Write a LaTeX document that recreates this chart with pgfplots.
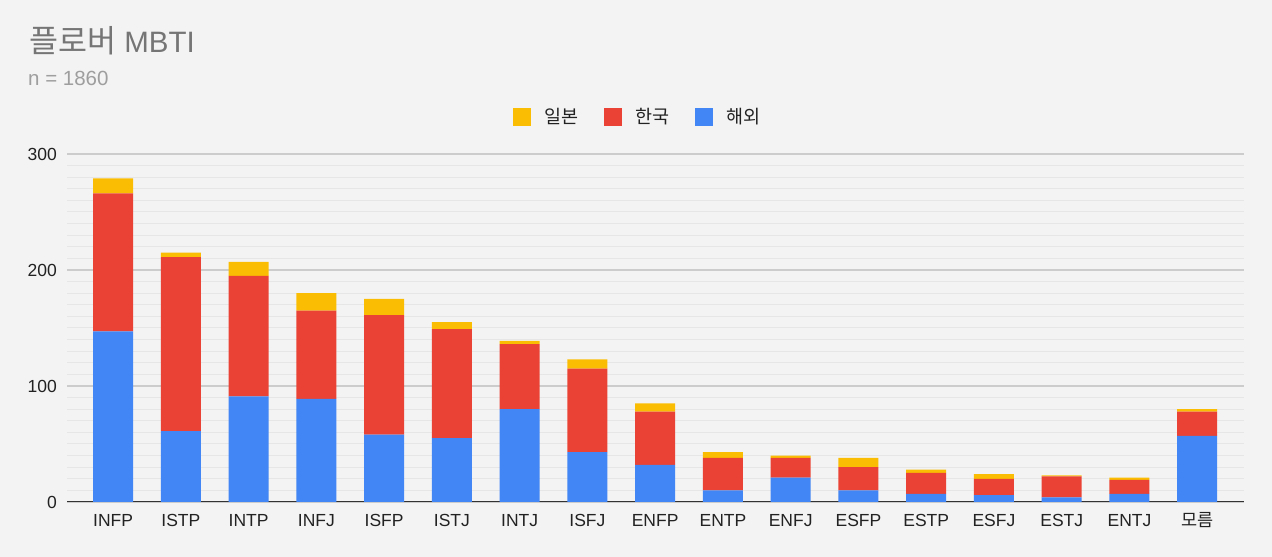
\documentclass[border=0pt]{standalone}
\usepackage{pgfplots}
\pgfplotsset{compat=1.18}
\usepackage{pgfplotstable}
\usepackage{fontspec}
\setmainfont{Liberation Sans}
\newfontfamily\kr{Noto Sans CJK KR}
\definecolor{bg}{HTML}{F3F3F3}
\definecolor{cblue}{HTML}{4285F4}
\definecolor{cred}{HTML}{EA4335}
\definecolor{cyellow}{HTML}{FBBC04}
\definecolor{titlec}{HTML}{757575}
\definecolor{subc}{HTML}{9E9E9E}
\definecolor{tickc}{HTML}{222222}
\definecolor{majgrid}{HTML}{CCCCCC}
\definecolor{mingrid}{HTML}{E6E6E6}
\definecolor{basec}{HTML}{333333}

\pgfplotstableread{
x blue red yellow
0 147 119 13
1 61 150 4
2 91 104 12
3 89 76 15
4 58 103 14
5 55 94 6
6 80 56 3
7 43 72 8
8 32 46 7
9 10 28 5
10 21 17 2
11 10 20 8
12 7 18 3
13 6 14 4
14 4 18 1
15 7 12 2
16 57 21 2
}\mbti

\begin{document}
\begin{tikzpicture}
\fill[bg] (0pt,0pt) rectangle (1272pt,557pt);
\node[anchor=base west, inner sep=0pt, text=titlec, font=\fontsize{29.5}{34}\selectfont] at (29pt,504.7pt) {{\kr\fontsize{31.5}{34}\selectfont 플로버} MBTI};
\node[anchor=base west, inner sep=0pt, text=subc, font=\fontsize{20.5}{24}\selectfont] at (28pt,471pt) {n = 1860};
\begin{axis}[
  at={(67pt,55pt)}, anchor=south west,
  scale only axis, width=1177pt, height=348pt,
  ybar stacked, bar width=40pt,
  xmin=-0.68, xmax=16.69, ymin=0, ymax=300,
  xtick=data,
  xticklabels={INFP,ISTP,INTP,INFJ,ISFP,ISTJ,INTJ,ISFJ,ENFP,ENTP,ENFJ,ESFP,ESTP,ESFJ,ESTJ,ENTJ,{\kr 모름}},
  ytick={0,100,200,300},
  minor y tick num=9,
  ymajorgrids, yminorgrids,
  major grid style={draw=majgrid, line width=1.3pt},
  minor grid style={draw=mingrid, line width=1pt},
  major tick length=0pt, minor tick length=0pt,
  axis line style={draw=none},
  /pgf/number format/assume math mode=true,
  xticklabel style={anchor=base, yshift=-24pt, inner sep=0pt, text=tickc, font=\fontsize{17.5}{20}\selectfont},
  yticklabel style={anchor=east, xshift=-10pt, inner sep=0pt, text=tickc, font=\fontsize{17.5}{20}\selectfont},
  reverse legend,
  legend columns=3,
  legend style={at={(0.484,1.105)}, anchor=center, draw=none, fill=none,
    font=\kr\fontsize{18.5}{22}\selectfont, text=tickc,
    nodes={inner sep=0pt},
    /tikz/every even column/.append style={column sep=25pt},
    /tikz/every odd column/.append style={column sep=14pt}},
  legend image code/.code={\fill[#1,draw=none] (0pt,-9.5pt) rectangle (18pt,8.5pt);},
]
\addplot[fill=cblue, draw=none] table[x=x, y=blue] {\mbti};
\addlegendentry{해외}
\addplot[fill=cred, draw=none] table[x=x, y=red] {\mbti};
\addlegendentry{한국}
\addplot[fill=cyellow, draw=none] table[x=x, y=yellow] {\mbti};
\addlegendentry{일본}
\draw[basec, line width=1.5pt] (rel axis cs:0,0) -- (rel axis cs:1,0);
\end{axis}
\end{tikzpicture}
\end{document}
